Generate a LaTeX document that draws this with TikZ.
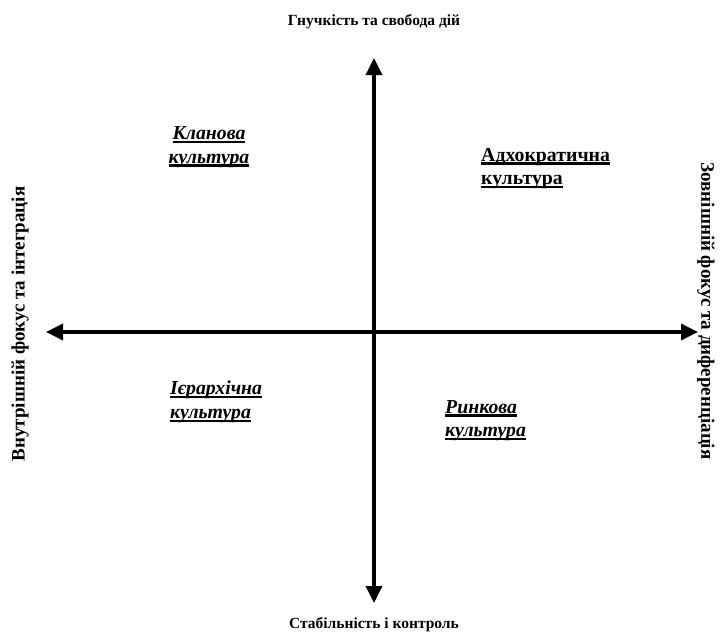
\documentclass[tikz,border=0pt]{standalone}
\usepackage{fontspec}
\setmainfont{Liberation Serif}
\usetikzlibrary{arrows.meta}
\newcommand\myul[1]{\setbox0\hbox{#1}\rlap{\raisebox{-3.5pt}{\rule{\wd0}{2.2pt}}}\box0}
\tikzset{
  axis/.style={line width=3.5pt, {Triangle[width=16pt,length=17pt]}-{Triangle[width=16pt,length=17pt]}},
  axislabel/.style={font=\bfseries\fontsize{15.5}{17}\selectfont, inner sep=0pt},
  sidelabel/.style={font=\bfseries\fontsize{19}{21}\selectfont, inner sep=0pt},
  quad/.style={font=\bfseries\fontsize{19.8}{23.5}\selectfont, inner sep=0pt},
}
\begin{document}
\begin{tikzpicture}[x=1pt,y=-1pt]
\useasboundingbox (0,0) rectangle (720,635);
\coordinate (vt) at (374,58);
\coordinate (vb) at (374,603);
\coordinate (hl) at (46,332);
\coordinate (hr) at (698,332);
\draw[axis] (vb) -- (vt);
\draw[axis] (hl) -- (hr);
\node[axislabel] (top) at (374,22) {Гнучкість та свобода дій};
\node[axislabel] (bot) at (374,625) {Стабільність і контроль};
\node[sidelabel, rotate=90] (left) at (20,324) {Внутрішній фокус та інтеграція};
\node[sidelabel, rotate=-90] (right) at (706,311) {Зовнішній фокус та диференціація};
\node[quad, align=center] (clan) at (209,147) {\myul{\itshape Кланова}\\\myul{\itshape культура}};
\node[quad, align=left, anchor=west] (adh) at (481,168.5) {\myul{Адхократична}\\\myul{культура}};
\node[quad, align=left, anchor=west] (hier) at (170,402) {\myul{\itshape Ієрархічна}\\\myul{\itshape культура}};
\node[quad, align=left, anchor=west] (mark) at (445,420.5) {\myul{\itshape Ринкова}\\\myul{\itshape культура}};
\end{tikzpicture}
\end{document}
